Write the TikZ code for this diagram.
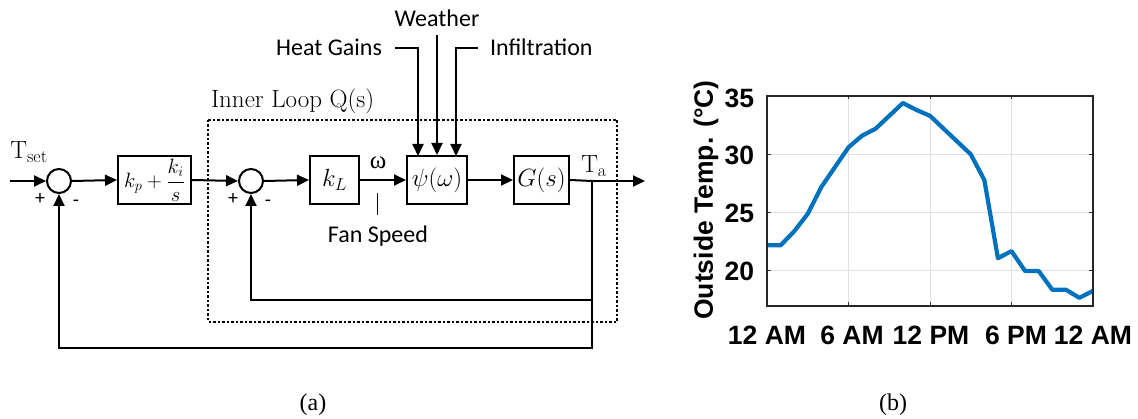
\documentclass[tikz,border=0pt]{standalone}
\usepackage{fontspec}
\usetikzlibrary{arrows.meta}
\newfontfamily\calib{Carlito}
\newfontfamily\helv{Liberation Sans}
\newfontfamily\timesf{Liberation Serif}
\definecolor{mblue}{RGB}{0,114,189}
\begin{document}
\begin{tikzpicture}[x=1pt,y=-1pt,
  line width=2pt,
  arr/.style={-{Triangle[length=12pt,width=11pt]}},
  blk/.style={draw,rectangle,minimum height=48pt,inner sep=0pt,font=\fontsize{23}{27}\selectfont},
  sumc/.style={draw,circle,minimum size=24pt,inner sep=0pt},
  lbl/.style={font=\calib\fontsize{24}{28}\selectfont,inner sep=0pt},
  pm/.style={font=\calib\fontsize{20}{23}\selectfont,inner sep=0pt},
  ser/.style={font=\fontsize{25}{30}\selectfont,inner sep=0pt},
  ax/.style={font=\helv\bfseries\fontsize{26.5}{31}\selectfont,inner sep=0pt},
  capt/.style={font=\timesf\fontsize{24}{28}\selectfont,inner sep=0pt}]
\useasboundingbox (0,0) rectangle (1138,419);

% ---------- block diagram ----------
\node[sumc] (s1) at (59,181) {};
\node[blk,minimum width=73pt,font=\fontsize{20}{24}\selectfont] (b1) at (154.5,180) {$k_p+\displaystyle\frac{k_i}{s}$};
\node[sumc] (s2) at (251,181) {};
\node[blk,minimum width=49pt] (kL) at (334.5,180) {$k_L$};
\node[blk,minimum width=60pt] (psi) at (437,180) {$\psi(\omega)$};
\node[blk,minimum width=55pt] (G) at (541.5,180) {$G(s)$};

\coordinate (in) at (10,181);
\coordinate (br) at (592,181);
\coordinate (out) at (645,181);
\coordinate (fi) at (592,300);
\coordinate (fo) at (592,348);

\draw[arr] (in) -- (s1.west);
\draw[arr] (s1.east) -- (b1.west);
\draw[arr] (b1.east) -- (s2.west);
\draw[arr] (s2.east) -- (kL.west);
\draw[arr] (kL.east) -- (psi.west);
\draw[arr] (psi.east) -- (G.west);
\draw (G.east) -- (br);
\draw[arr] (br) -- (out);
\draw[arr] (br) -- (fo) -| (s1.south);
\draw[arr] (fi) -| (s2.south);

% inner loop box
\draw[line width=1.5pt,dash pattern=on 2.5pt off 2pt] (208,120) rectangle (617,322);
\node[ser,anchor=west] (il) at (210,101) {Inner Loop Q(s)};

% labels
\node[ser] (tset) at (29,152) {T\textsubscript{\fontsize{18}{20}\selectfont set}};
\node[ser] (ta) at (594,166) {T\textsubscript{\fontsize{18}{20}\selectfont a}};
\node[font=\timesf\fontsize{25}{30}\selectfont,inner sep=0pt] (om) at (378,163) {ω};
\node[pm] (p1) at (40,199) {+};
\node[pm] (m1) at (76,203) {-};
\node[pm] (p2) at (233,199) {+};
\node[pm] (m2) at (268,203) {-};

% fan speed
\coordinate (fs1) at (377,193);
\coordinate (fs2) at (377,215);
\draw[line width=1pt] (fs1) -- (fs2);
\node[lbl] (fan) at (378,236) {Fan Speed};

% disturbances
\node[lbl,anchor=east] (hg) at (383,47) {Heat Gains};
\node[lbl] (we) at (437,18) {Weather};
\node[lbl,anchor=west] (inf) at (489,47) {Infiltration};
\coordinate (hg0) at (395,48);
\coordinate (hg1) at (418,156);
\coordinate (we0) at (437,35);
\coordinate (in0) at (478,48);
\coordinate (in1) at (456,156);
\draw[arr] (hg0) -| (hg1);
\draw[arr] (we0) -- (psi.north);
\draw[arr] (in0) -| (in1);

% ---------- plot ----------
\begin{scope}[shift={(767,306)},xscale=13.5833,yscale=-11.6667]
  \draw[line width=1pt,black!12] (6,0) -- (6,18) (12,0) -- (12,18) (18,0) -- (18,18)
     (0,3) -- (24,3) (0,8) -- (24,8) (0,13) -- (24,13);
  \foreach \h in {6,12,18} {
    \draw[line width=1pt,black!80] (\h,0) -- ++(0,0.3) (\h,18) -- ++(0,-0.3);
  }
  \foreach \v in {3,8,13} {
    \draw[line width=1pt,black!80] (0,\v) -- ++(0.3,0) (24,\v) -- ++(-0.3,0);
  }
  \draw[line width=4.2pt,mblue,line join=round] plot coordinates {
    (0,5.2) (1,5.2) (2,6.4) (3,7.9) (4,10.2) (5,11.9) (6,13.6) (7,14.6) (8,15.2)
    (9,16.3) (10,17.4) (11,16.8) (12,16.3) (13,15.2) (14,14.1) (15,13.0) (16,10.8)
    (17,4.1) (18,4.7) (19,3.0) (20,3.0) (21,1.4) (22,1.4) (23,0.7) (24,1.3)};
  \draw[line width=1.3pt,black!85] (0,0) rectangle (24,18);
\end{scope}

\node[ax,anchor=east] (y35) at (755,98) {35};
\node[ax,anchor=east] (y30) at (755,155) {30};
\node[ax,anchor=east] (y25) at (755,213) {25};
\node[ax,anchor=east] (y20) at (755,271) {20};
\node[ax] (x0) at (767,335) {12 AM};
\node[ax] (x6) at (852,335) {6 AM};
\node[ax] (x12) at (931,335) {12 PM};
\node[ax] (x18) at (1016,335) {6 PM};
\node[ax] (x24) at (1093,335) {12 AM};
\node[ax,rotate=90] (yl) at (706,200) {Outside Temp. (°C)};

% captions
\node[capt] (ca) at (313,405) {(a)};
\node[capt] (cb) at (893,405) {(b)};
\end{tikzpicture}
\end{document}
